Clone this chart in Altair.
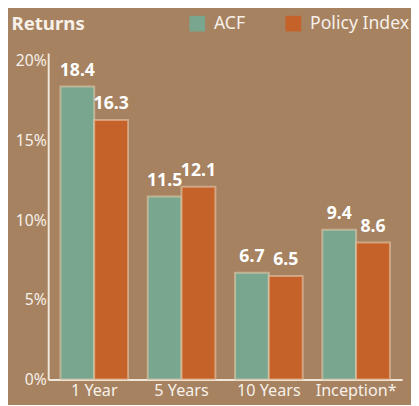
import altair as alt
import pandas as pd

periods = ["1 Year", "5 Years", "10 Years", "Inception*"]
series = ["ACF", "Policy Index"]
acf = [18.4, 11.5, 6.7, 9.4]
policy = [16.3, 12.1, 6.5, 8.6]
colors = ["#79A68E", "#C5622A"]
bg = "#A68261"

rows = []
for p, a, b in zip(periods, acf, policy):
    rows.append({"period": p, "series": "ACF", "value": a})
    rows.append({"period": p, "series": "Policy Index", "value": b})
df = pd.DataFrame(rows)

font = "Noto Sans"
txt = "#F7F0E8"

x = alt.X("period:N", sort=periods, title=None,
          scale=alt.Scale(paddingInner=0.225, paddingOuter=0.14),
          axis=alt.Axis(labelAngle=0, ticks=False, labelFontSize=16.5, labelColor=txt,
                        labelFont=font, domainColor="#EFE6DA", domainWidth=2, labelPadding=3))
xo = alt.XOffset("series:N", sort=series)
y = alt.Y("value:Q", title="Returns",
          scale=alt.Scale(domain=[0, 20.5], nice=False),
          axis=alt.Axis(values=[0, 5, 10, 15, 20], labelExpr="datum.value + '%'", grid=False,
                        ticks=False, labelFontSize=16, labelColor=txt, labelFont=font,
                        domainColor="#EFE6DA", domainWidth=2, labelPadding=2,
                        titleAngle=0, titleAlign="left", titleBaseline="alphabetic",
                        titleX=-38, titleY=-24, titleFontSize=19, titleFontWeight="bold",
                        titleColor=txt, titleFont=font))

bars = alt.Chart(df).mark_bar(stroke="#E9CFB2", strokeOpacity=0.55, strokeWidth=2).encode(
    x=x, xOffset=xo, y=y,
    color=alt.Color("series:N", sort=series,
                    scale=alt.Scale(domain=series, range=colors),
                    legend=alt.Legend(title=None, orient="none", legendX=143, legendY=-39,
                                      direction="horizontal", symbolType="square",
                                      symbolSize=256, symbolStrokeWidth=0, labelFontSize=18,
                                      labelColor=txt, labelFont=font, columnPadding=40,
                                      labelOffset=8)),
)

labels = alt.Chart(df).mark_text(baseline="bottom", dy=-7, fontSize=18, fontWeight="bold",
                                 color="white", font=font).encode(
    x=x, xOffset=xo, y=y, text=alt.Text("value:Q", format=".1f"))

chart = alt.layer(bars, labels).properties(
    width=361, height=333,
    autosize=alt.AutoSizeParams(type="none"),
    padding={"left": 41, "top": 42, "right": 9, "bottom": 22},
    background=bg,
).configure_view(stroke=None)

chart.save("out.html", embed_options={"renderer": "svg", "actions": False})
